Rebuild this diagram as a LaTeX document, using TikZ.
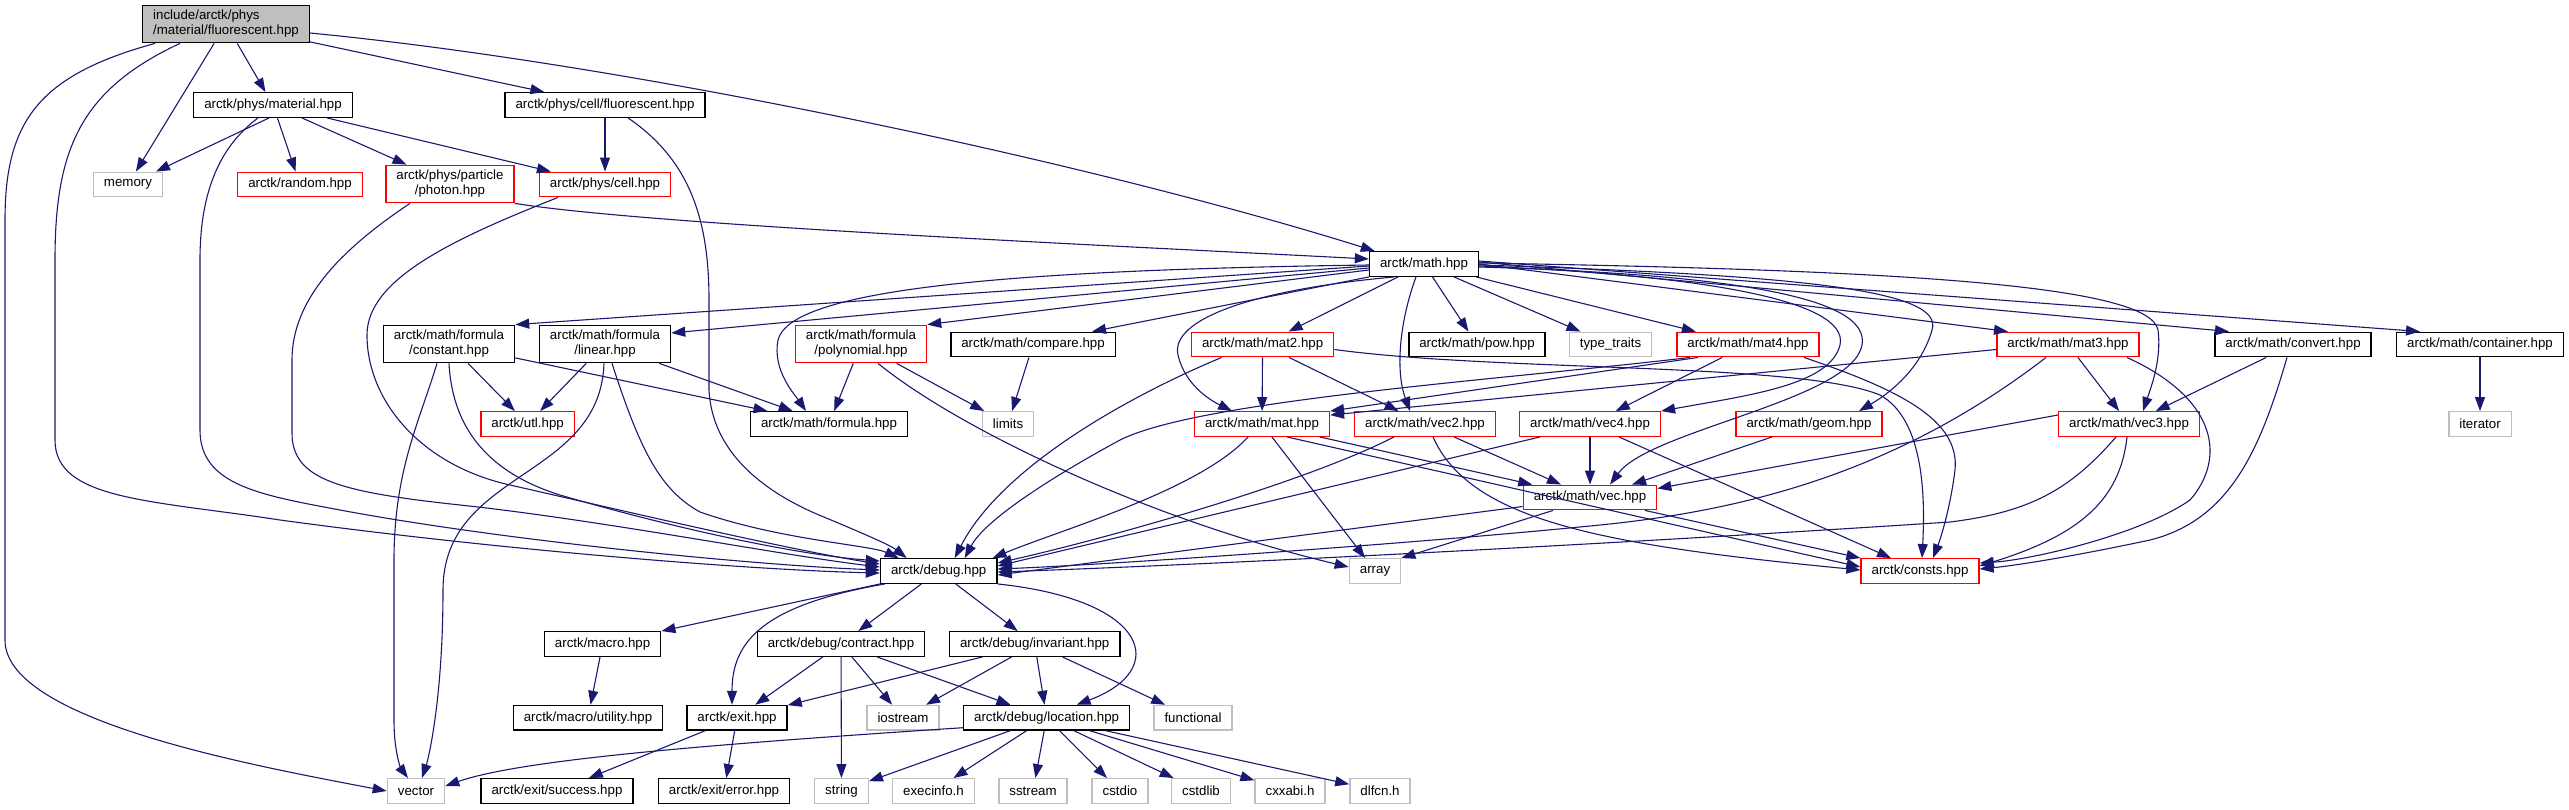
\documentclass[tikz,border=0pt]{standalone}
\usepackage{fontspec}
\setmainfont{Liberation Sans}
\usetikzlibrary{arrows.meta}
\definecolor{edgeblue}{HTML}{191970}
\definecolor{grey75}{HTML}{BFBFBF}
\begin{document}
\begin{tikzpicture}[x=1pt,y=-1pt,
  every node/.style={font=\fontsize{13.3}{15}\selectfont, inner xsep=10.5pt, inner ysep=5pt,
    minimum height=24.5pt, line width=1.4pt, align=center, fill=white},
  blk/.style={draw=black},
  redn/.style={draw=red},
  grn/.style={draw=grey75},
  dep/.style={draw=edgeblue, line width=1.1pt, -{Triangle[length=14pt,width=10pt]}}
]
\useasboundingbox (0,0) rectangle (2569,809);
% ---------- nodes ----------
\node[blk, fill=grey75, align=left] (root) at (226,24) {include/arctk/phys\\/material/fluorescent.hpp};
\node[blk] (mat) at (273,105) {arctk/phys/material.hpp};
\node[blk] (cellfl) at (605,105) {arctk/phys/cell/fluorescent.hpp};
\node[grn] (memory) at (128,184.5) {memory};
\node[redn] (random) at (300,184.5) {arctk/random.hpp};
\node[redn] (photon) at (450,184) {arctk/phys/particle\\/photon.hpp};
\node[redn] (cell) at (605,184.5) {arctk/phys/cell.hpp};
\node[blk] (math) at (1424,264) {arctk/math.hpp};
\node[blk] (constant) at (449,344) {arctk/math/formula\\/constant.hpp};
\node[blk] (linear) at (605,344) {arctk/math/formula\\/linear.hpp};
\node[redn] (poly) at (861,344) {arctk/math/formula\\/polynomial.hpp};
\node[blk] (compare) at (1033,344.5) {arctk/math/compare.hpp};
\node[redn] (mat2) at (1262.6,344.5) {arctk/math/mat2.hpp};
\node[blk] (pow) at (1477,344.5) {arctk/math/pow.hpp};
\node[grn] (typetraits) at (1610.5,344.5) {type\_traits};
\node[redn] (mat4) at (1748,344.5) {arctk/math/mat4.hpp};
\node[redn] (mat3) at (2068,344.5) {arctk/math/mat3.hpp};
\node[blk] (convert) at (2293,344.5) {arctk/math/convert.hpp};
\node[blk] (container) at (2480,344.5) {arctk/math/container.hpp};
\node[redn] (utl) at (527.6,424) {arctk/utl.hpp};
\node[blk] (formula) at (829,424) {arctk/math/formula.hpp};
\node[grn] (limits) at (1008,424) {limits};
\node[redn] (matx) at (1262,424) {arctk/math/mat.hpp};
\node[redn] (vec2) at (1425,424) {arctk/math/vec2.hpp};
\node[redn] (vec4) at (1590,424) {arctk/math/vec4.hpp};
\node[redn] (geom) at (1809,424) {arctk/math/geom.hpp};
\node[redn] (vec3) at (2129,424) {arctk/math/vec3.hpp};
\node[grn] (iterator) at (2480,424) {iterator};
\node[redn] (vec) at (1590,497.5) {arctk/math/vec.hpp};
\node[blk] (debug) at (938.7,571) {arctk/debug.hpp};
\node[grn] (array) at (1375,571) {array};
\node[redn] (consts) at (1920,571) {arctk/consts.hpp};
\node[blk] (macro) at (602.6,644) {arctk/macro.hpp};
\node[blk] (contract) at (841,644) {arctk/debug/contract.hpp};
\node[blk] (invariant) at (1034.7,644) {arctk/debug/invariant.hpp};
\node[blk] (utility) at (588,717.7) {arctk/macro/utility.hpp};
\node[blk] (exit) at (737,717.7) {arctk/exit.hpp};
\node[grn] (iostream) at (903,717.7) {iostream};
\node[blk] (location) at (1046.6,717.7) {arctk/debug/location.hpp};
\node[grn] (functional) at (1193,717.7) {functional};
\node[grn] (vector) at (416,791) {vector};
\node[blk] (success) at (557,791) {arctk/exit/success.hpp};
\node[blk] (error) at (724,791) {arctk/exit/error.hpp};
\node[grn] (string) at (841.5,791) {string};
\node[grn] (execinfo) at (933.5,791) {execinfo.h};
\node[grn] (sstream) at (1033,791) {sstream};
\node[grn] (cstdio) at (1120,791) {cstdio};
\node[grn] (cstdlib) at (1201,791) {cstdlib};
\node[grn] (cxxabi) at (1290,791) {cxxabi.h};
\node[grn] (dlfcn) at (1380,791) {dlfcn.h};
% ---------- edges from root ----------
\draw[dep] ([xshift=13pt]root.south west) .. controls (40,75) and (5,120) .. (5,220) -- (5,640) .. controls (5,720) and (250,765) .. (vector.west);
\draw[dep] ([xshift=38pt]root.south west) .. controls (80,90) and (55,150) .. (55,260) -- (55,440) .. controls (55,500) and (150,500) .. (280,520) .. controls (500,550) and (750,570) .. ([yshift=-2pt]debug.west);
\draw[dep] (root) -- (memory);
\draw[dep] (root) -- (mat);
\draw[dep] (root) -- (cellfl);
\draw[dep] ([yshift=-9pt]root.east) .. controls (640,65) and (1100,165) .. ([xshift=6pt]math.north west);
% ---------- material ----------
\draw[dep] ([xshift=-4pt]mat.south) -- ([xshift=28pt]memory.north);
\draw[dep] ([xshift=-15pt]mat.south) .. controls (215,150) and (200,200) .. (200,260) -- (200,430) .. controls (200,485) and (260,495) .. (340,510) .. controls (500,540) and (750,565) .. ([yshift=1pt]debug.west);
\draw[dep] (mat) -- (random);
\draw[dep] (mat) -- (photon);
\draw[dep] (mat) -- (cell);
% ---------- cell/fluorescent ----------
\draw[dep] (cellfl) -- (cell);
\draw[dep] ([xshift=23pt]cellfl.south) .. controls (690,160) and (709,220) .. (709,300) -- (709,390) .. controls (712,450) and (760,490) .. (819,515) .. controls (860,532) and (890,545) .. ([xshift=-32pt]debug.north);
% ---------- photon, cell ----------
\draw[dep] (photon.south east) .. controls (650,225) and (1100,245) .. ([yshift=5pt]math.west);
\draw[dep] ([xshift=-40pt]photon.south) .. controls (340,250) and (292,300) .. (292,360) -- (292,433) .. controls (292,480) and (340,492) .. (460,505) .. controls (600,520) and (780,555) .. ([yshift=4pt]debug.west);
\draw[dep] ([xshift=-47pt]cell.south) .. controls (450,240) and (367,280) .. (367,335) .. controls (367,400) and (420,465) .. (510,485) .. controls (620,510) and (790,550) .. ([yshift=7pt]debug.west);
% ---------- math ----------
\draw[dep] ([yshift=-2pt]math.west) -- (constant.north east);
\draw[dep] ([yshift=-4pt]math.west) -- ([yshift=11pt]linear.east);
\draw[dep] ([yshift=-6pt]math.west) -- (poly.north east);
\draw[dep] (math.south west) -- ([xshift=59pt]compare.north);
\draw[dep] ([yshift=-1pt]math.west) .. controls (1000,270) and (790,290) .. (778,340) .. controls (772,370) and (795,395) .. ([xshift=-23pt]formula.north);
\draw[dep] ([xshift=-30pt]math.south) .. controls (1250,290) and (1170,320) .. (1178,355) .. controls (1185,385) and (1210,400) .. ([xshift=-30pt]matx.north);
\draw[dep] (math) -- (mat2);
\draw[dep] ([xshift=-8pt]math.south) .. controls (1400,320) and (1395,370) .. ([xshift=-15pt]vec2.north);
\draw[dep] (math) -- (pow);
\draw[dep] (math) -- (typetraits);
\draw[dep] (math) -- (mat4);
\draw[dep] ([yshift=-2pt]math.east) .. controls (1700,275) and (1850,300) .. (1840,345) .. controls (1830,385) and (1750,395) .. (vec4.north east);
\draw[dep] ([yshift=-3pt]math.east) .. controls (1750,275) and (1870,300) .. (1862,345) .. controls (1852,400) and (1650,430) .. ([xshift=20pt]vec.north);
\draw[dep] ([yshift=-1pt]math.east) .. controls (1800,275) and (1945,290) .. (1932,330) .. controls (1922,365) and (1895,390) .. ([xshift=50pt]geom.north);
\draw[dep] (math.east) -- ([xshift=-60pt]mat3.north);
\draw[dep] ([yshift=1pt]math.east) .. controls (1900,270) and (2150,285) .. (2158,330) .. controls (2162,360) and (2150,390) .. ([xshift=14pt]vec3.north);
\draw[dep] ([yshift=2pt]math.east) -- ([xshift=-64pt]convert.north);
\draw[dep] ([yshift=3pt]math.east) -- ([xshift=-60pt]container.north);
% ---------- formula family ----------
\draw[dep] ([xshift=-12pt]constant.south) .. controls (420,420) and (394,470) .. (394,560) -- (394,720) .. controls (394,755) and (402,770) .. ([xshift=-8pt]vector.north);
\draw[dep] (constant.south) .. controls (452,420) and (480,470) .. (560,495) .. controls (680,530) and (800,555) .. ([yshift=10pt]debug.west);
\draw[dep] (constant) -- (utl);
\draw[dep] (constant) -- (formula);
\draw[dep] (linear) -- (utl);
\draw[dep] (linear) -- (formula);
\draw[dep] ([xshift=-1pt]linear.south) .. controls (600,480) and (443,470) .. (443,590) .. controls (443,700) and (428,760) .. ([xshift=6pt]vector.north);
\draw[dep] ([xshift=7pt]linear.south) .. controls (640,450) and (660,490) .. (700,512) .. controls (780,540) and (870,545) .. ([xshift=-40pt]debug.north);
\draw[dep] (poly) -- (formula);
\draw[dep] (poly) -- (limits);
\draw[dep] ([xshift=17pt]poly.south) .. controls (960,430) and (1150,520) .. ([yshift=4pt]array.west);
\draw[dep] (compare) -- (limits);
% ---------- mat2 / mat4 / mat3 ----------
\draw[dep] (mat2) -- (matx);
\draw[dep] (mat2) -- (vec2);
\draw[dep] ([xshift=-41pt]mat2.south) .. controls (1120,400) and (1000,470) .. ([xshift=16pt]debug.north);
\draw[dep] ([yshift=-5pt]mat2.east) .. controls (1500,372) and (1800,362) .. (1880,395) .. controls (1925,420) and (1925,500) .. ([xshift=2pt]consts.north);
\draw[dep] ([xshift=-50pt]mat4.south) -- (matx.north east);
\draw[dep] (mat4) -- (vec4);
\draw[dep] ([xshift=-58pt]mat4.south) .. controls (1500,380) and (1200,400) .. (1120,440) .. controls (1050,478) and (985,520) .. ([xshift=26pt]debug.north);
\draw[dep] ([xshift=56pt]mat4.south) .. controls (1900,390) and (1960,420) .. (1955,470) .. controls (1950,510) and (1940,540) .. ([xshift=13pt]consts.north);
\draw[dep] ([yshift=-5pt]mat3.west) -- ([yshift=-4pt]matx.north east);
\draw[dep] (mat3) -- (vec3);
\draw[dep] ([xshift=-22pt]mat3.south) .. controls (1900,470) and (1750,510) .. (1600,525) .. controls (1400,545) and (1100,565) .. ([yshift=2pt]debug.east);
\draw[dep] ([xshift=59pt]mat3.south) .. controls (2220,400) and (2225,460) .. (2190,500) .. controls (2140,535) and (2030,560) .. ([yshift=8pt]consts.east);
\draw[dep] (convert) -- (vec3);
\draw[dep] ([xshift=-6pt]convert.south) .. controls (2260,450) and (2230,520) .. (2150,540) .. controls (2080,555) and (2020,565) .. ([yshift=2pt]consts.east);
\draw[dep] (container) -- (iterator);
% ---------- mat / vec ----------
\draw[dep] (matx) -- (vec);
\draw[dep] ([xshift=-14pt]matx.south) .. controls (1200,490) and (1060,530) .. ([xshift=-5pt]debug.north east);
\draw[dep] (matx) -- (array);
\draw[dep] ([xshift=25pt]matx.south) -- ([yshift=4pt]consts.west);
\draw[dep] (vec2) -- (vec);
\draw[dep] ([xshift=-31pt]vec2.south) .. controls (1300,485) and (1100,540) .. ([yshift=8pt]debug.east);
\draw[dep] ([xshift=8pt]vec2.south) .. controls (1470,520) and (1600,545) .. ([yshift=1pt]consts.west);
\draw[dep] (vec4) -- (vec);
\draw[dep] ([xshift=-50pt]vec4.south) -- ([yshift=5pt]debug.east);
\draw[dep] ([xshift=29pt]vec4.south) -- ([xshift=-29pt]consts.north);
\draw[dep] ([xshift=-37pt]geom.south) -- ([xshift=42pt]vec.north);
\draw[dep] ([yshift=9pt]vec3.west) -- ([yshift=9pt]vec.east);
\draw[dep] ([xshift=-13pt]vec3.south) .. controls (2070,490) and (2030,512) .. (1950,522) .. controls (1600,545) and (1200,565) .. ([yshift=-1pt]debug.east);
\draw[dep] ([xshift=-2pt]vec3.south) .. controls (2120,500) and (2080,535) .. ([yshift=5pt]consts.east);
\draw[dep] ([yshift=-9pt]vec.west) -- ([yshift=-4pt]debug.east);
\draw[dep] ([xshift=-37pt]vec.south) -- (array.north east);
\draw[dep] ([xshift=55pt]vec.south) -- (consts.north west);
% ---------- debug ----------
\draw[dep] (debug.south west) -- (macro.north east);
\draw[dep] ([xshift=5pt]debug.south west) .. controls (765,605) and (732,640) .. ([xshift=-5pt]exit.north);
\draw[dep] (debug) -- (contract);
\draw[dep] (debug) -- (invariant);
\draw[dep] (debug.south east) .. controls (1150,600) and (1170,670) .. ([xshift=30pt]location.north);
\draw[dep] (macro) -- (utility);
\draw[dep] (contract) -- (exit);
\draw[dep] (contract) -- (string);
\draw[dep] (contract) -- (iostream);
\draw[dep] (contract) -- (location);
\draw[dep] (invariant) -- (exit);
\draw[dep] (invariant) -- (iostream);
\draw[dep] (invariant) -- (location);
\draw[dep] (invariant) -- (functional);
\draw[dep] (exit) -- (success);
\draw[dep] (exit) -- (error);
\draw[dep] ([yshift=-10pt]location.west) .. controls (700,745) and (520,760) .. ([yshift=5pt]vector.east);
\draw[dep] (location) -- (string);
\draw[dep] (location) -- (execinfo);
\draw[dep] (location) -- (sstream);
\draw[dep] (location) -- (cstdio);
\draw[dep] (location) -- (cstdlib);
\draw[dep] (location) -- (cxxabi);
\draw[dep] (location) -- (dlfcn);
\end{tikzpicture}
\end{document}
